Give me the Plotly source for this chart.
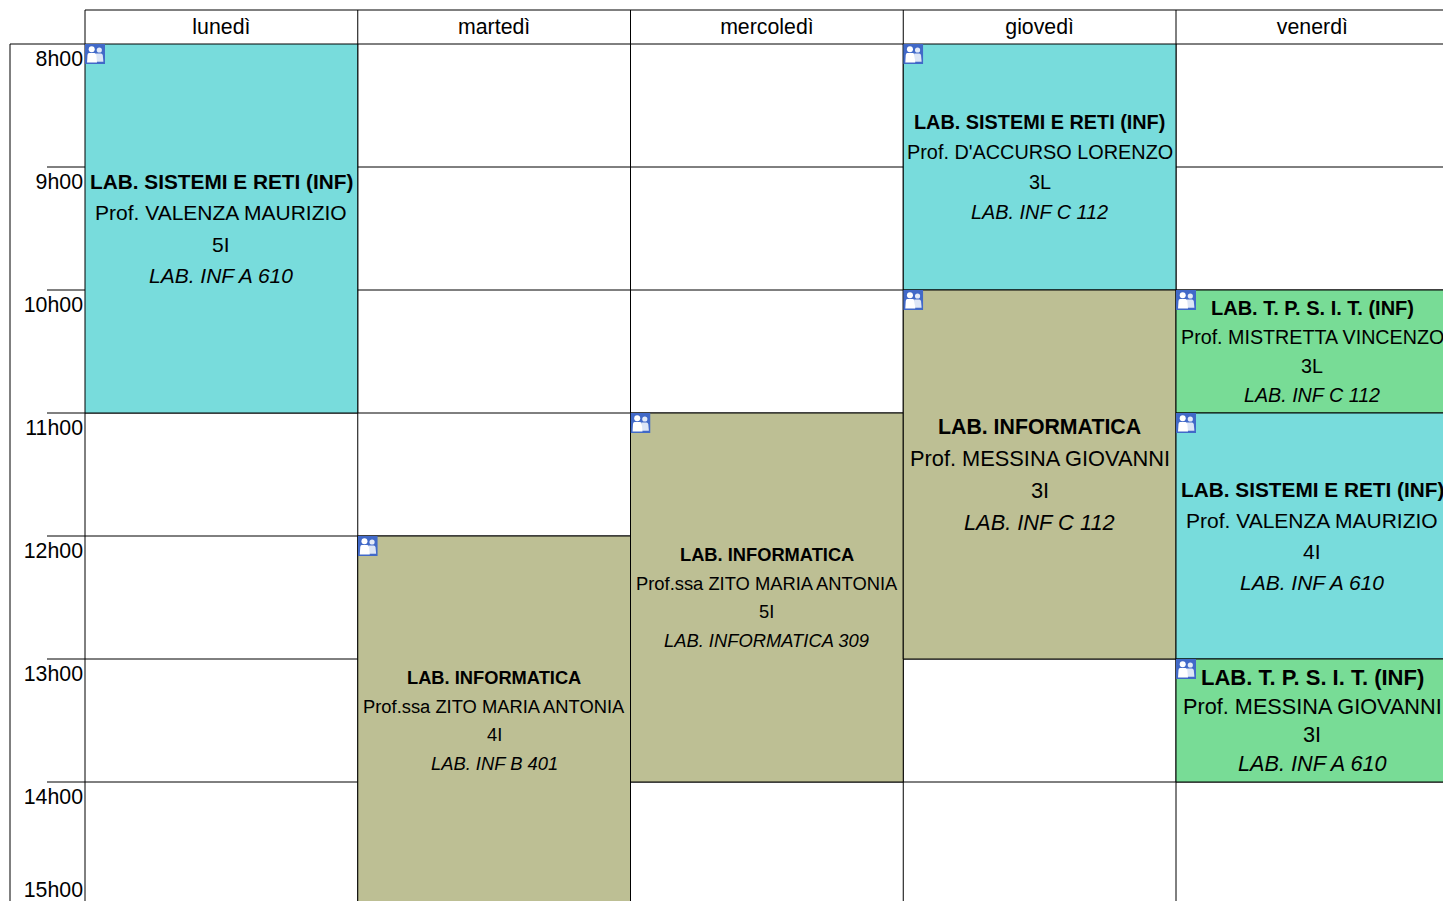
import base64
import plotly.graph_objects as go

# ---------- data ----------
DAYS = ["lunedì", "martedì", "mercoledì", "giovedì", "venerdì"]
HOURS = [8, 9, 10, 11, 12, 13, 14, 15]
HOUR_LABELS = ["8h00", "9h00", "10h00", "11h00", "12h00", "13h00", "14h00", "15h00"]

EVENT_DAY = [0, 1, 2, 3, 3, 4, 4, 4]
EVENT_START = [8, 12, 11, 8, 10, 10, 11, 13]
EVENT_END = [11, 15, 14, 10, 13, 11, 13, 14]
EVENT_SUBJECT = ["LAB. SISTEMI E RETI (INF)", "LAB. INFORMATICA", "LAB. INFORMATICA",
                 "LAB. SISTEMI E RETI (INF)", "LAB. INFORMATICA", "LAB. T. P. S. I. T. (INF)",
                 "LAB. SISTEMI E RETI (INF)", "LAB. T. P. S. I. T. (INF)"]
EVENT_TEACHER = ["Prof. VALENZA MAURIZIO", "Prof.ssa ZITO MARIA ANTONIA", "Prof.ssa ZITO MARIA ANTONIA",
                 "Prof. D'ACCURSO LORENZO", "Prof. MESSINA GIOVANNI", "Prof. MISTRETTA VINCENZO",
                 "Prof. VALENZA MAURIZIO", "Prof. MESSINA GIOVANNI"]
EVENT_CLASS = ["5I", "4I", "5I", "3L", "3I", "3L", "4I", "3I"]
EVENT_ROOM = ["LAB. INF A 610", "LAB. INF B 401", "LAB. INFORMATICA 309", "LAB. INF C 112",
              "LAB. INF C 112", "LAB. INF C 112", "LAB. INF A 610", "LAB. INF A 610"]

# ---------- style ----------
FONT = "Liberation Sans"
W, H = 1443, 901
LEFT, TOP = 85, 44
COL_W, HOUR_H = 272.75, 123.0
SUBJECT_COLOR = {"LAB. SISTEMI E RETI (INF)": "#78DCDC", "LAB. INFORMATICA": "#BDBF94",
                 "LAB. T. P. S. I. T. (INF)": "#78DC96"}
EVENT_SIZES = [(20.8, 21), (18.3, 18.35), (18.3, 18.35), (19.85, 19.85), (21.3, 21.8), (20, 19.7), (20.8, 21), (22, 21.7)]
EVENT_LEADING = [31.3, 28.5, 28.5, 30, 31.7, 29.3, 30.7, 28.7]

ICON_SVG = """<svg xmlns="http://www.w3.org/2000/svg" viewBox="0 0 20 20">
<rect width="20" height="20" fill="#4169C8"/>
<circle cx="14.3" cy="6" r="2.6" fill="#E4EBF8"/>
<path d="M11 9.5h5q1.5 0 1.8 2l.6 6.2H11z" fill="#DDE6F6"/>
<circle cx="6.7" cy="5.2" r="3" fill="#fff"/>
<path d="M4 9h5.5q1.5 0 1.8 2l.7 7.5H2l.5-7.5q.2-2 1.5-2z" fill="#fff"/></svg>"""
ICON_URI = "data:image/svg+xml;base64," + base64.b64encode(ICON_SVG.encode()).decode()

fig = go.Figure()

# events as real bars on the axes
for d, s, e, subj in zip(EVENT_DAY, EVENT_START, EVENT_END, EVENT_SUBJECT):
    fig.add_trace(go.Bar(x=[d], y=[e - s], base=[s], width=[1], orientation="v",
                         marker=dict(color=SUBJECT_COLOR[subj], line=dict(color="#000", width=1)),
                         name=subj, showlegend=False, hoverinfo="skip"))

px = lambda v: (v - LEFT) / (W - LEFT)
py = lambda v: (H - v) / (H - TOP)
LINE = dict(color="#000", width=1)
shapes = []
for h in HOURS[1:-1]:  # hour rules behind the events, running into the time column
    y = py(TOP + (h - 8) * HOUR_H)
    shapes.append(dict(type="line", xref="paper", yref="paper", x0=px(47), x1=1, y0=y, y1=y, line=LINE, layer="below"))
for i in range(6):  # column rules, through the header
    x = px(LEFT + i * COL_W)
    shapes.append(dict(type="line", xref="paper", yref="paper", x0=x, x1=x, y0=py(H), y1=py(10), line=LINE, layer="below"))
shapes += [
    dict(type="line", xref="paper", yref="paper", x0=px(LEFT), x1=1, y0=py(10), y1=py(10), line=LINE, layer="below"),
    dict(type="line", xref="paper", yref="paper", x0=px(10), x1=1, y0=py(TOP), y1=py(TOP), line=LINE, layer="below"),
    dict(type="line", xref="paper", yref="paper", x0=px(10), x1=px(10), y0=py(TOP), y1=py(H), line=LINE, layer="below"),
]

annotations, images = [], []
for k, (d, s, e) in enumerate(zip(EVENT_DAY, EVENT_START, EVENT_END)):
    mid = (s + e) / 2
    lines = [f"<b>{EVENT_SUBJECT[k]}</b>", EVENT_TEACHER[k], EVENT_CLASS[k], f"<i>{EVENT_ROOM[k]}</i>"]
    sizes = [EVENT_SIZES[k][0], EVENT_SIZES[k][1], EVENT_SIZES[k][1], EVENT_SIZES[k][1]]
    for i, (t, sz) in enumerate(zip(lines, sizes)):
        annotations.append(dict(x=d, y=mid + (i - 1.5) * EVENT_LEADING[k] / HOUR_H, xref="x", yref="y", text=t,
                                showarrow=False, xanchor="center", yanchor="middle",
                                font=dict(family=FONT, size=sz, color="#000"), borderpad=0))
    images.append(dict(source=ICON_URI, xref="x", yref="y", x=d - 0.5, y=s, sizex=20 / COL_W, sizey=20 / HOUR_H,
                       xanchor="left", yanchor="top", sizing="stretch", layer="above"))

LABEL_OFFSET = 15 / HOUR_H
tick_pos = [h + LABEL_OFFSET for h in HOURS[:-1]] + [HOURS[-1] - LABEL_OFFSET]

fig.update_layout(
    width=W, height=H, margin=dict(l=LEFT, r=0, t=TOP, b=0, pad=0, autoexpand=False),
    paper_bgcolor="white", plot_bgcolor="white", barmode="overlay", showlegend=False,
    font=dict(family=FONT, size=21.3, color="#000"),
    shapes=shapes, annotations=annotations, images=images,
    xaxis=dict(range=[-0.5, -0.5 + (W - LEFT) / COL_W], side="top", tickmode="array",
               tickvals=list(range(len(DAYS))), ticktext=DAYS, showgrid=False, zeroline=False,
               showline=False, ticks="", ticklabelstandoff=5, ticklabeloverflow="allow",
               tickfont=dict(family=FONT, size=21.3, color="#000"), fixedrange=True),
    yaxis=dict(range=[8 + (H - TOP) / HOUR_H, 8], tickmode="array", tickvals=tick_pos, ticktext=HOUR_LABELS,
               showgrid=False, zeroline=False, showline=False, ticks="", ticklabelstandoff=1,
               ticklabeloverflow="allow",
               tickfont=dict(family=FONT, size=21.3, color="#000"), fixedrange=True),
)
fig.write_html("out.html", config=dict(displayModeBar=False),
               post_script="document.body.style.margin='0';document.body.style.overflow='hidden';")
